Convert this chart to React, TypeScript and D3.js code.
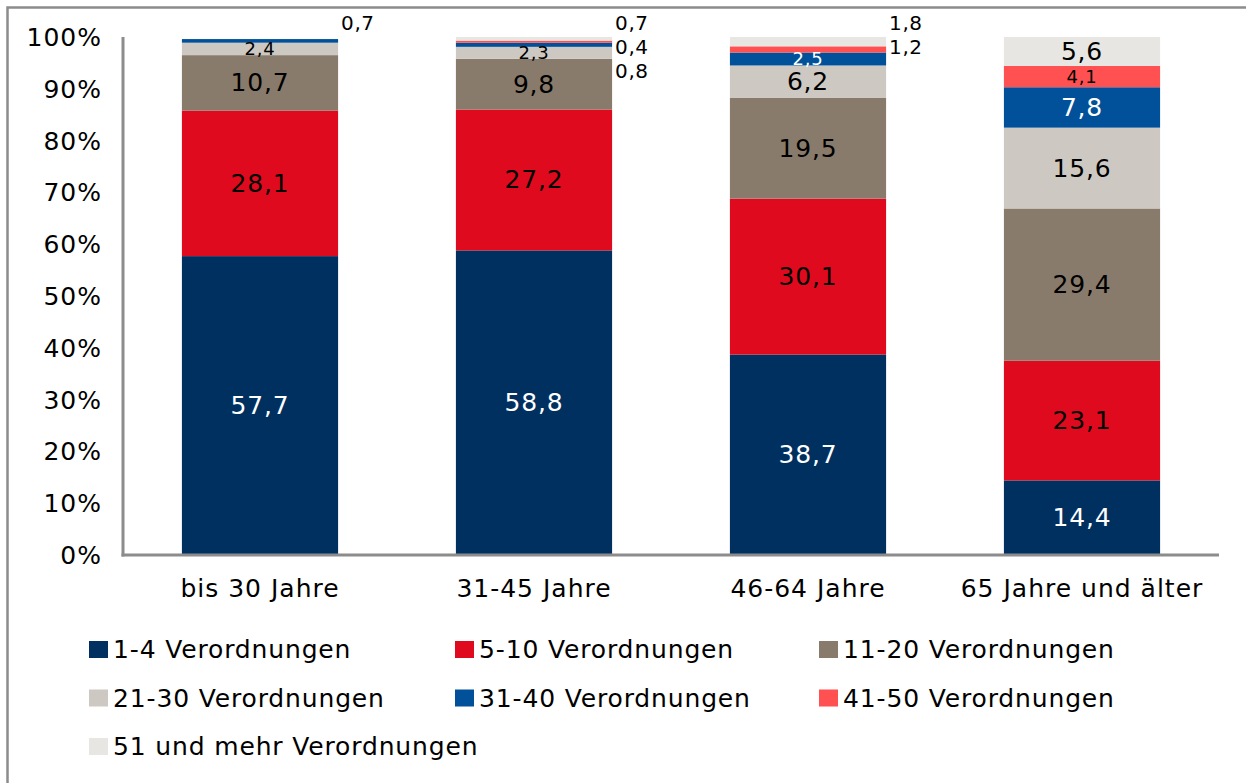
import React from 'react';
import * as d3 from 'd3';

const ageGroups = ['bis 30 Jahre', '31-45 Jahre', '46-64 Jahre', '65 Jahre und älter'];
const seriesNames = [
  '1-4 Verordnungen',
  '5-10 Verordnungen',
  '11-20 Verordnungen',
  '21-30 Verordnungen',
  '31-40 Verordnungen',
  '41-50 Verordnungen',
  '51 und mehr Verordnungen',
];
// one array per age group, in series order (1-4 ... 51+)
const bis30 = [57.7, 28.1, 10.7, 2.4, 0.7, 0, 0];
const j31to45 = [58.8, 27.2, 9.8, 2.3, 0.8, 0.4, 0.7];
const j46to64 = [38.7, 30.1, 19.5, 6.2, 2.5, 1.2, 1.8];
const ab65 = [14.4, 23.1, 29.4, 15.6, 7.8, 4.1, 5.6];
const yTicks = [0, 10, 20, 30, 40, 50, 60, 70, 80, 90, 100];

const colors = ['#00305f', '#e00a1e', '#887b6b', '#cdc9c2', '#005199', '#ff5151', '#e8e6e2'];
const labelColors = ['#fff', '#000', '#000', '#000', '#fff', '#000', '#000'];

const W = 1246;
const H = 783;
const FONT = '"DejaVu Sans", Verdana, sans-serif';

export default function App() {
  const values = [bis30, j31to45, j46to64, ab65];
  const rows = ageGroups.map((g, i) => {
    const r: any = { group: g };
    seriesNames.forEach((s, k) => (r[s] = values[i][k]));
    return r;
  });
  const stacked = d3.stack().keys(seriesNames)(rows);

  const x = d3.scaleBand().domain(ageGroups).range([123, 1219]).paddingInner(0.43).paddingOuter(0.215);
  const y = d3.scaleLinear().domain([0, 100]).range([555, 37]);
  const fmt = (v: number) => d3.format('.1f')(v).replace('.', ',');

  // outside labels for small segments, stacked from the top of each bar
  const outside: any[] = [];
  ageGroups.forEach((g, gi) => {
    const small = seriesNames
      .map((s, k) => ({ k, v: values[gi][k] }))
      .filter((d) => d.v > 0 && d.v < 2)
      .reverse();
    small.forEach((d, i) => {
      outside.push({ g, v: d.v, y: 30 + i * 24 });
    });
  });

  return (
    <svg width={W} height={H} style={{ position: 'absolute', left: 0, top: 0, background: '#fff' }} fontFamily={FONT}>
      <rect x={0} y={0} width={W} height={H} fill="#fff" />
      {/* frame */}
      <path d={`M7.5,${H} V7.5 H${W}`} fill="none" stroke="#8c8c8c" strokeWidth={2.5} />

      {/* y tick labels */}
      {yTicks.map((t) => (
        <text key={t} x={102} y={y(t) + 9} textAnchor="end" fontSize={25} letterSpacing={1} fill="#000">
          {t}%
        </text>
      ))}

      {/* bars */}
      {stacked.map((layer, k) => (
        <g key={layer.key} fill={colors[k]}>
          {layer.map((d: any, i) => (
            <rect
              key={i}
              x={x(d.data.group)}
              y={y(d[1])}
              width={x.bandwidth()}
              height={Math.max(0, y(d[0]) - y(d[1]))}
            />
          ))}
        </g>
      ))}

      {/* inside labels */}
      {stacked.map((layer, k) =>
        layer.map((d: any, i) => {
          const v = d[1] - d[0];
          if (v < 2) return null;
          const fs = v < 5 ? 18 : 25;
          const mid = (y(d[0]) + y(d[1])) / 2;
          return (
            <text
              key={layer.key + i}
              x={(x(d.data.group) as number) + x.bandwidth() / 2}
              y={mid + fs * 0.34}
              textAnchor="middle"
              fontSize={fs}
              letterSpacing={0.8}
              fill={labelColors[k]}
            >
              {fmt(v)}
            </text>
          );
        })
      )}

      {/* outside labels */}
      {outside.map((d, i) => (
        <text
          key={i}
          x={(x(d.g) as number) + x.bandwidth() + 3}
          y={d.y}
          fontSize={20}
          letterSpacing={0.6}
          fill="#000"
        >
          {fmt(d.v)}
        </text>
      ))}

      {/* axes */}
      <line x1={123} x2={123} y1={37} y2={556.5} stroke="#8c8c8c" strokeWidth={3} />
      <line x1={121.5} x2={1219} y1={555} y2={555} stroke="#8c8c8c" strokeWidth={3} />

      {/* x labels */}
      {ageGroups.map((g) => (
        <text
          key={g}
          x={(x(g) as number) + x.bandwidth() / 2}
          y={597}
          textAnchor="middle"
          fontSize={25}
          letterSpacing={1}
          fill="#000"
        >
          {g}
        </text>
      ))}

      {/* legend */}
      {seriesNames.map((s, k) => {
        const col = k % 3;
        const row = Math.floor(k / 3);
        const lx = [89, 455, 819][col];
        const ly = 658 + row * 48.5;
        return (
          <g key={s}>
            <rect x={lx} y={ly - 17} width={19} height={17} fill={colors[k]} />
            <text x={lx + 24} y={ly} fontSize={25} letterSpacing={0.85} fill="#000">
              {s}
            </text>
          </g>
        );
      })}
    </svg>
  );
}
